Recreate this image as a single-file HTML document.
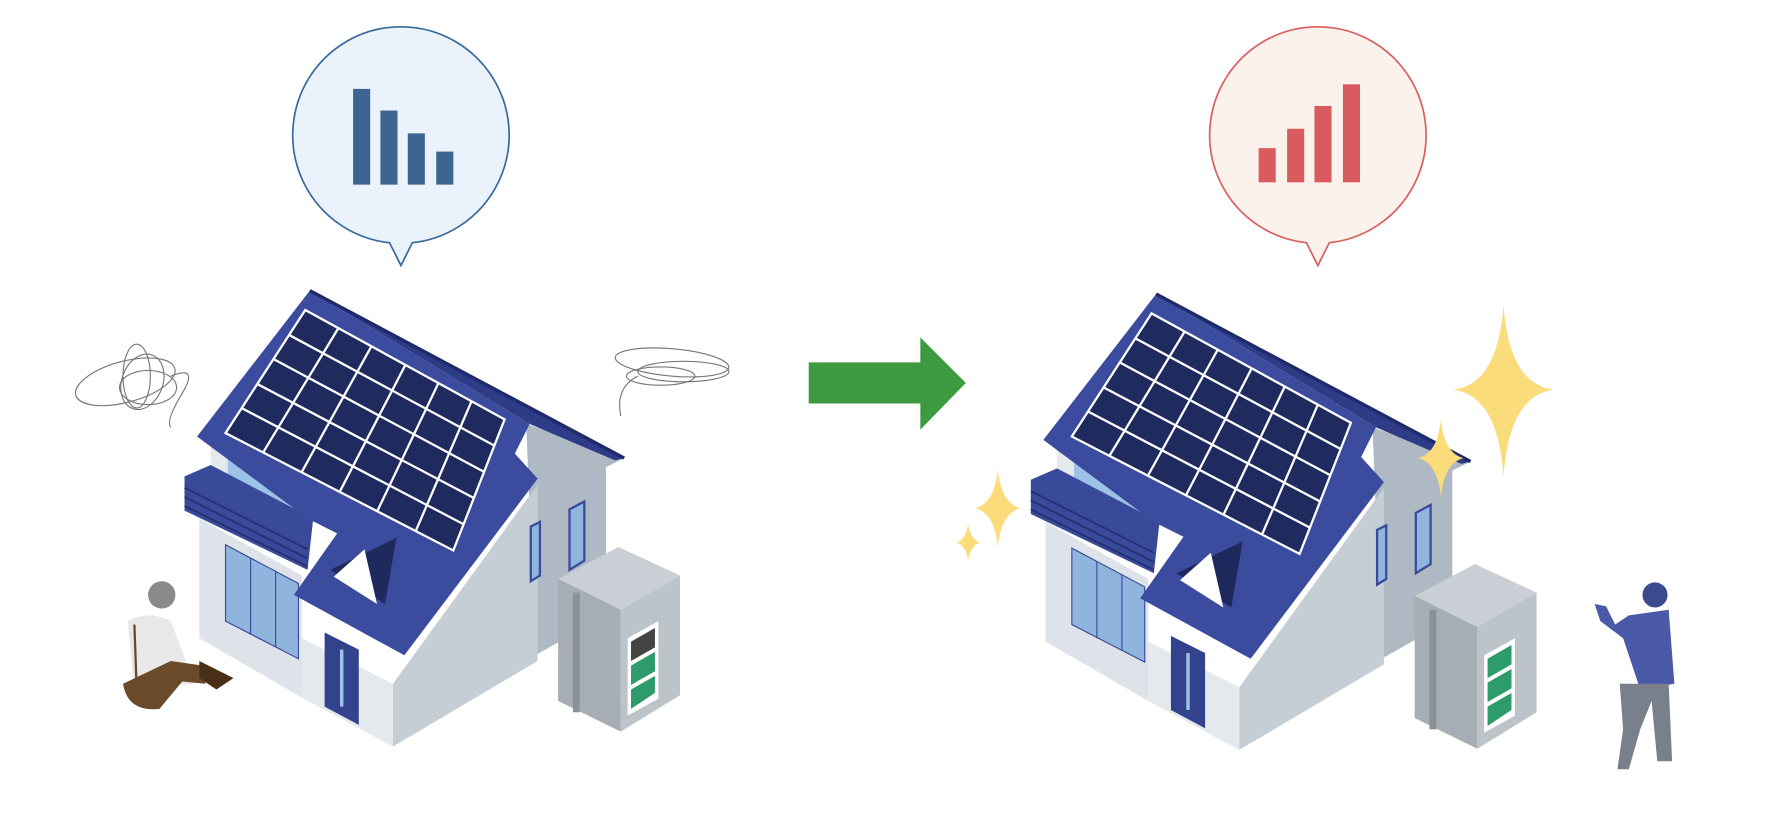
<!DOCTYPE html>
<html><head><meta charset="utf-8"><style>html,body{margin:0;padding:0;background:#fff}svg{display:block}</style></head>
<body>
<svg width="1786" height="816" viewBox="0 0 1568 716" preserveAspectRatio="none" xmlns="http://www.w3.org/2000/svg">
<defs>
<g id="house">
  <polygon points="462,372 548,402 532,410 532,540 470,575" fill="#aeb9c4"/>
  <polygon points="272,255 548,402 540,404 465,372" fill="#2e3c88"/>
  <polygon points="345,600 472,425 472,580 345,655" fill="#c5cdd5"/>
  <polygon points="265,560 345,600 345,655 265,612" fill="#e4e9ee"/>
  <polygon points="175,455 265,505 265,612 175,560" fill="#dde3e9"/>
  <polygon points="198,478 262,512 262,578 198,545" fill="#8fb5de" stroke="#3a4a9a" stroke-width="1"/>
  <line x1="220" y1="490" x2="220" y2="557" stroke="#3a4a9a"/><line x1="242" y1="501" x2="242" y2="568" stroke="#3a4a9a"/>
  <polygon points="185,385 270,430 270,470 185,425" fill="#e4e9ee"/>
  <polygon points="200,395 268,430 268,465 200,430" fill="#9cc2e6"/>
  <polygon points="162,418 185,408 275,455 270,500 162,448" fill="#3a4a9a"/>
  <g stroke="#24306e" stroke-width="1.5"><line x1="162" y1="428" x2="270" y2="482"/><line x1="162" y1="436" x2="270" y2="490"/><line x1="162" y1="444" x2="270" y2="497"/></g>
  <polygon points="272,255 465,372 452,398 472,420 355,575 258,522 296,468 270,455 173,383" fill="#3b4b9e"/>
  <line x1="272" y1="255" x2="548" y2="402" stroke="#1e2a6a" stroke-width="3"/>
  <polygon points="268,272 443,368 398,483 198,380" fill="#1f2a5e" stroke="#fff" stroke-width="2"/>
  <g stroke="#fff" stroke-width="2">
   <line x1="254" y1="294" x2="434" y2="391"/><line x1="240" y1="315" x2="425" y2="414"/><line x1="226" y1="337" x2="416" y2="437"/><line x1="212" y1="358" x2="407" y2="460"/>
   <line x1="297" y1="288" x2="231" y2="397"/><line x1="326" y1="304" x2="265" y2="414"/><line x1="356" y1="320" x2="298" y2="432"/><line x1="385" y1="336" x2="331" y2="449"/><line x1="414" y1="352" x2="365" y2="466"/>
  </g>
  <polygon points="290,500 348,472 338,530" fill="#1e2a5e"/>
  <polygon points="293,506 320,482 331,530" fill="#fff"/>
  <polygon points="285,555 315,570 315,636 285,620" fill="#33428c"/>
  <line x1="300" y1="570" x2="300" y2="620" stroke="#9cc2e6" stroke-width="3"/>
  <polygon points="500,447 513,440 513,492 500,500" fill="#8fb5de" stroke="#3a4a9a" stroke-width="2"/>
  <polygon points="466,462 474,458 474,505 466,510" fill="#8fb5de" stroke="#3a4a9a" stroke-width="2"/>
</g>
<g id="batt">
  <polygon points="490,508 543,480 597,505 545,535" fill="#c9cfd4"/>
  <polygon points="490,508 545,535 545,642 490,615" fill="#a6adb4"/>
  <polygon points="545,535 597,505 597,610 545,642" fill="#bcc3c9"/>
  <rect x="503" y="520" width="6" height="105" fill="#8a9197"/>
</g>
</defs>

<path d="M342,213 A95,95 0 1 1 362,213 L352,233 Z" fill="#eaf3fb" stroke="#3a6a9a" stroke-width="1.5"/>
<g fill="#3c6591"><rect x="310" y="78" width="15" height="84"/><rect x="334" y="97" width="15" height="65"/><rect x="358" y="117" width="15" height="45"/><rect x="383" y="133" width="15" height="29"/></g>
<path d="M1147,213 A95,95 0 1 1 1167,213 L1157,233 Z" fill="#fbf2ec" stroke="#d9605f" stroke-width="1.5"/>
<g fill="#d95b5e"><rect x="1105" y="130" width="15" height="30"/><rect x="1130" y="113" width="15" height="47"/><rect x="1154" y="93" width="15" height="67"/><rect x="1179" y="74" width="15" height="86"/></g>
<polygon points="710,318 808,318 808,296 848,336 808,377 808,354 710,354" fill="#3e9a3e"/>

<g fill="none" stroke="#777" stroke-width="1">
 <ellipse cx="110" cy="335" rx="45" ry="18" transform="rotate(-15 110 335)"/>
 <ellipse cx="125" cy="335" rx="18" ry="25" transform="rotate(20 125 335)"/>
 <ellipse cx="130" cy="340" rx="25" ry="15"/>
 <ellipse cx="120" cy="330" rx="12" ry="28"/>
 <path d="M150,330 Q175,320 160,345 T150,375"/>
 <ellipse cx="590" cy="318" rx="50" ry="12" transform="rotate(5 590 318)"/>
 <ellipse cx="600" cy="326" rx="40" ry="9"/>
 <ellipse cx="580" cy="330" rx="30" ry="8"/>
 <path d="M560,330 Q540,340 545,365"/>
</g>

<use href="#house"/>
<use href="#batt"/>
<polygon points="551,560 578,545 578,613 551,628" fill="#fff"/>
<polygon points="554,563 575,551 575,568 554,580" fill="#444"/>
<polygon points="554,584 575,572 575,589 554,601" fill="#2e9b6a"/>
<polygon points="554,605 575,593 575,608 554,622" fill="#2e9b6a"/>
<circle cx="142" cy="522" r="12" fill="#8a8a8a"/>
<path d="M112,545 Q130,535 150,545 L165,585 L170,600 L118,605 Z" fill="#e8e8e8"/>
<line x1="118" y1="548" x2="120" y2="605" stroke="#6b4a2a" stroke-width="2"/>
<path d="M108,600 Q112,625 140,622 L160,598 L180,600 L185,585 L150,580 Z" fill="#6b4a2a"/>
<path d="M175,580 L195,590 L205,595 L190,605 L175,595 Z" fill="#4a2f18"/>

<use href="#house" transform="translate(743,3)"/>
<use href="#batt" transform="translate(752,15)"/>
<polygon points="1303,575 1330,560 1330,628 1303,643" fill="#fff"/>
<polygon points="1306,578 1327,566 1327,583 1306,595" fill="#2e9b6a"/>
<polygon points="1306,599 1327,587 1327,604 1306,616" fill="#2e9b6a"/>
<polygon points="1306,620 1327,608 1327,623 1306,637" fill="#2e9b6a"/>
<circle cx="1453" cy="522" r="11" fill="#3a4a8e"/>
<path d="M1430,540 L1465,535 L1470,600 L1440,605 L1425,560 L1405,545 L1400,530 L1410,532 L1418,548 Z" fill="#4a5aa8"/>
<path d="M1422,600 L1465,600 L1468,668 L1455,668 L1450,615 L1440,640 L1430,675 L1420,675 L1425,640 Z" fill="#7a7f8c"/>
<g fill="#fbdc7a">
 <path d="M1320,268 Q1325,337 1364,342 Q1325,347 1320,418 Q1315,347 1276,342 Q1315,337 1320,268 Z"/>
 <path d="M1265,368 Q1268,398 1285,402 Q1268,406 1265,436 Q1262,406 1245,402 Q1262,398 1265,368 Z"/>
 <path d="M876,412 Q879,442 896,446 Q879,450 876,480 Q873,450 856,446 Q873,442 876,412 Z"/>
 <path d="M850,460 Q852,473 860,476 Q852,479 850,492 Q848,479 840,476 Q848,473 850,460 Z"/>
</g>
</svg>
</body></html>
